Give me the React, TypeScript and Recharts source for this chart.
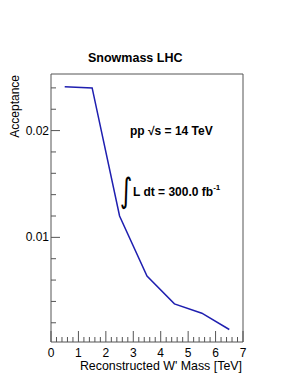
import { LineChart, Line, XAxis, YAxis, ReferenceArea } from 'recharts'

// reconstructed W' mass [TeV] vs acceptance
const masses = [0.5, 1.5, 2.5, 3.5, 4.5, 5.5, 6.5]
const acceptance = [0.0241, 0.024, 0.012, 0.00637, 0.00377, 0.0029, 0.00137]

const xMajorTicks = [0, 1, 2, 3, 4, 5, 6, 7]
const yMajorTicks = [0.01, 0.02]
const yTickLabels = ['0.01', '0.02']

const X_MIN = 0
const X_MAX = 7
const Y_MIN = 0.0002
const Y_MAX = 0.0253

const data = masses.map((m, i) => ({ mass: m, acc: acceptance[i] }))

// minor ticks: every 0.2 on x, every 0.002 on y
const xTicks: number[] = []
for (let i = 0; i <= 35; i++) xTicks.push(+(i * 0.2).toFixed(1))
const yTicks: number[] = []
for (let i = 1; i <= 12; i++) yTicks.push(+(i * 0.002).toFixed(3))

const FONT = '"Liberation Sans", Arial, Helvetica, sans-serif'
const AXIS = '#555'

function XTick(props: any) {
  const { x, y, payload } = props
  const v = payload.value as number
  const major = xMajorTicks.some(t => Math.abs(t - v) < 1e-6)
  return (
    <g>
      <line x1={x} x2={x} y1={y} y2={y - (major ? 11 : 5)} stroke={AXIS} strokeWidth={1} />
      {major && (
        <text x={x} y={y + 15} textAnchor="middle" fontSize={12} fontFamily={FONT} fill="#000">
          {v}
        </text>
      )}
    </g>
  )
}

function YTick(props: any) {
  const { x, y, payload } = props
  const v = payload.value as number
  const idx = yMajorTicks.findIndex(t => Math.abs(t - v) < 1e-9)
  const major = idx >= 0
  return (
    <g>
      <line x1={x} x2={x + (major ? 9 : 5)} y1={y} y2={y} stroke={AXIS} strokeWidth={1} />
      {major && (
        <text x={x - 2} y={y + 4} textAnchor="end" fontSize={12} fontFamily={FONT} fill="#000">
          {yTickLabels[idx]}
        </text>
      )}
    </g>
  )
}

export default function App() {
  return (
    <div style={{ position: 'absolute', left: 0, top: 0, width: 291, height: 376, background: '#fff' }}>
      <LineChart width={291} height={376} data={data} margin={{ top: 74, right: 48, bottom: 0, left: 0 }}>
        <XAxis
          dataKey="mass"
          type="number"
          domain={[X_MIN, X_MAX]}
          ticks={xTicks}
          interval={0}
          height={34}
          tickSize={0}
          tickMargin={0}
          axisLine={false}
          tickLine={false}
          tick={<XTick />}
          allowDataOverflow
        />
        <YAxis
          type="number"
          domain={[Y_MIN, Y_MAX]}
          ticks={yTicks}
          interval={0}
          width={51}
          tickSize={0}
          tickMargin={0}
          axisLine={false}
          tickLine={false}
          tick={<YTick />}
          allowDataOverflow
        />
        <ReferenceArea x1={X_MIN} x2={X_MAX} y1={Y_MIN} y2={Y_MAX} fill="none" stroke={AXIS} strokeWidth={1} fillOpacity={0} />
        <Line
          dataKey="acc"
          stroke="#1f1fb0"
          strokeWidth={1.5}
          dot={false}
          isAnimationActive={false}
        />
      </LineChart>
      <svg width={291} height={376} style={{ position: 'absolute', left: 0, top: 0, pointerEvents: 'none' }} fontFamily={FONT}>
        <text x={88} y={62} fontSize={12.5} fontWeight="bold">Snowmass LHC</text>
        <text transform="translate(19,75) rotate(-90)" textAnchor="end" fontSize={12}>Acceptance</text>
        <text x={242} y={370} textAnchor="end" fontSize={12.4}>Reconstructed W' Mass [TeV]</text>
        <text x={130} y={135} fontSize={12} fontWeight="bold">pp √s = 14 TeV</text>
        <text transform="translate(120,201.5) scale(0.7,1)" fontSize={34} fontFamily='"DejaVu Sans", sans-serif' fontWeight="normal">∫</text>
        <text x={133} y={196} fontSize={12} fontWeight="bold">
          L dt = 300.0 fb<tspan dy={-6} fontSize={8}>-1</tspan>
        </text>
      </svg>
    </div>
  )
}
